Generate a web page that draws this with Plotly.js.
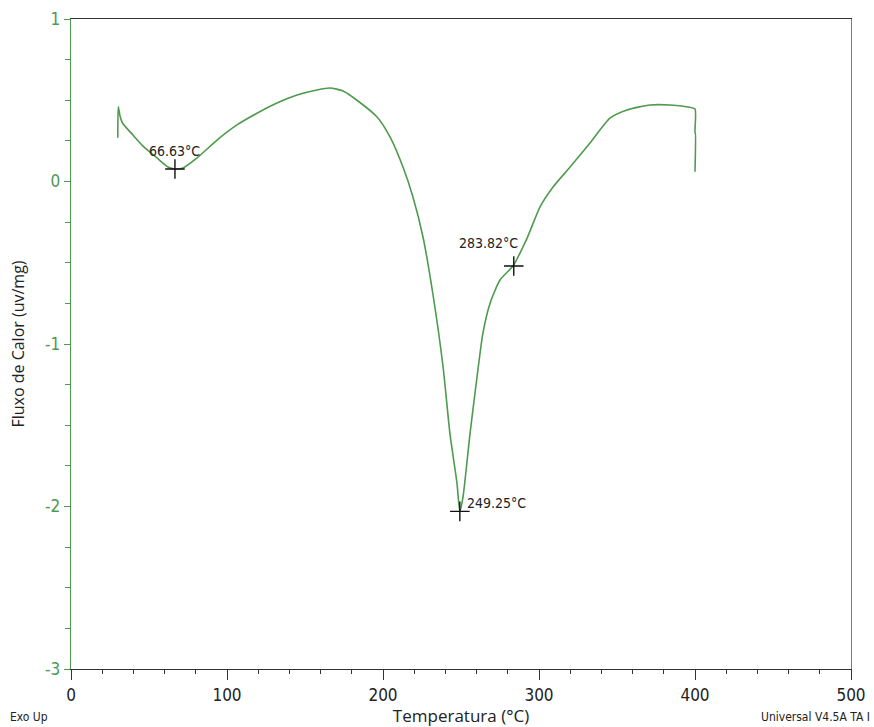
<!DOCTYPE html>
<html>
<head>
<meta charset="utf-8">
<script src="https://cdn.plot.ly/plotly-3.0.1.min.js"></script>
<style>html,body{margin:0;padding:0;background:#fff;}#chart{width:874px;height:727px;}</style>
</head>
<body>
<div id="chart"></div>
<script>
// DSC curve: temperature (°C) and heat flow (uv/mg)
const temperature = [30.0, 30.3, 31.5, 33.0, 39.7, 46.2, 55.1, 62.2, 66.6, 71.8, 80.8, 93.6, 106.4, 119.2, 132.0, 144.9, 157.7, 166.0, 174.4, 183.3, 196.2, 204.5, 212.8, 219.2, 225.6, 232.1, 238.5, 242.9, 247.4, 249.25, 251.3, 255.8, 260.3, 264.1, 268.6, 275.0, 283.3, 292.3, 300.6, 309.0, 319.9, 332.7, 345.5, 356.4, 371.2, 384.0, 395.5, 400.0, 400.0, 400.2, 400.0];
const heatFlow = [0.27, 0.46, 0.40, 0.36, 0.286, 0.218, 0.145, 0.089, 0.077, 0.083, 0.145, 0.255, 0.348, 0.42, 0.483, 0.532, 0.563, 0.575, 0.557, 0.50, 0.397, 0.274, 0.089, -0.095, -0.34, -0.70, -1.14, -1.55, -1.855, -2.03, -1.94, -1.55, -1.20, -0.93, -0.75, -0.606, -0.52, -0.35, -0.157, -0.034, 0.089, 0.237, 0.39, 0.44, 0.471, 0.471, 0.458, 0.446, 0.30, 0.30, 0.06];

// Marked events
const markT = [66.63, 249.25, 283.82];
const markV = [0.077, -2.03, -0.52];
const markLabels = ['66.63°C', '249.25°C', '283.82°C'];

// Axis ticks
const xTickVals = [0, 100, 200, 300, 400, 500];
const xTickText = ['0', '100', '200', '300', '400', '500'];
const yTickVals = [1, 0, -1, -2, -3];
const yTickText = ['1', '0', '-1', '-2', '-3'];

const green = '#4e9a4e';
const narrow = '"Liberation Sans Narrow", "Arial Narrow", "DejaVu Sans Condensed", "Liberation Sans", Arial, sans-serif';

const traces = [
  {x: temperature, y: heatFlow, mode: 'lines', type: 'scatter',
   line: {color: green, width: 1.6, shape: 'spline', smoothing: 0.6}, hoverinfo: 'skip'},
  {x: markT, y: markV, mode: 'markers', type: 'scatter',
   marker: {symbol: 'cross-thin-open', size: 14, color: '#111', line: {color: '#111', width: 1.4}}, hoverinfo: 'skip'}
];

const labelStyle = [
  {xanchor: 'center', yanchor: 'middle', xshift: 0, yshift: 18},
  {xanchor: 'left', yanchor: 'middle', xshift: 5, yshift: 8},
  {xanchor: 'right', yanchor: 'middle', xshift: 6, yshift: 23}
];

const annotations = markT.map((t, i) => Object.assign({
  x: t, y: markV[i], xref: 'x', yref: 'y', text: markLabels[i], showarrow: false,
  font: {family: narrow, size: 14, color: '#222'}
}, labelStyle[i]));

annotations.push({
  x: (8 - 71) / 780, y: (669 - 717) / 650, xref: 'paper', yref: 'paper', text: 'Exo Up',
  showarrow: false, xanchor: 'left', yanchor: 'middle', font: {family: narrow, size: 12, color: '#222'}
});
annotations.push({
  x: (872 - 71) / 780, y: (669 - 717) / 650, xref: 'paper', yref: 'paper', text: 'Universal V4.5A TA I',
  showarrow: false, xanchor: 'right', yanchor: 'middle', font: {family: narrow, size: 12, color: '#222'}
});

const layout = {
  width: 874, height: 727,
  margin: {l: 71, r: 23, t: 19, b: 58},
  paper_bgcolor: '#fff', plot_bgcolor: '#fff',
  showlegend: false,
  xaxis: {
    range: [0, 500], showgrid: false, zeroline: false,
    showline: true, linecolor: '#333', linewidth: 1.3, mirror: true,
    ticks: 'outside', ticklen: 10, tickwidth: 1, tickcolor: '#333',
    tickvals: xTickVals, ticktext: xTickText,
    minor: {dtick: 20, tick0: 0, ticks: 'outside', ticklen: 4, tickcolor: '#333', tickwidth: 1},
    tickfont: {family: narrow, size: 17, color: '#222'},
    title: {text: 'Temperatura (°C)', font: {family: '"Open Sans", "Noto Sans", sans-serif', size: 17, color: '#222'}, standoff: 8}
  },
  yaxis: {
    range: [-3, 1], showgrid: false, zeroline: false,
    showline: true, linecolor: green, linewidth: 1.3, mirror: true,
    ticks: 'outside', ticklen: 6, tickwidth: 1, tickcolor: green,
    tickvals: yTickVals, ticktext: yTickText,
    minor: {dtick: 0.25, tick0: 0, ticks: 'outside', ticklen: 5, tickcolor: green, tickwidth: 1},
    tickfont: {family: narrow, size: 17, color: green},
    title: {text: 'Fluxo de Calor (uv/mg)', font: {family: '"Open Sans", "Noto Sans", sans-serif', size: 16, color: '#222'}, standoff: 16}
  },
  annotations: annotations
};

Plotly.newPlot('chart', traces, layout, {displayModeBar: false, staticPlot: true});
</script>
</body>
</html>
